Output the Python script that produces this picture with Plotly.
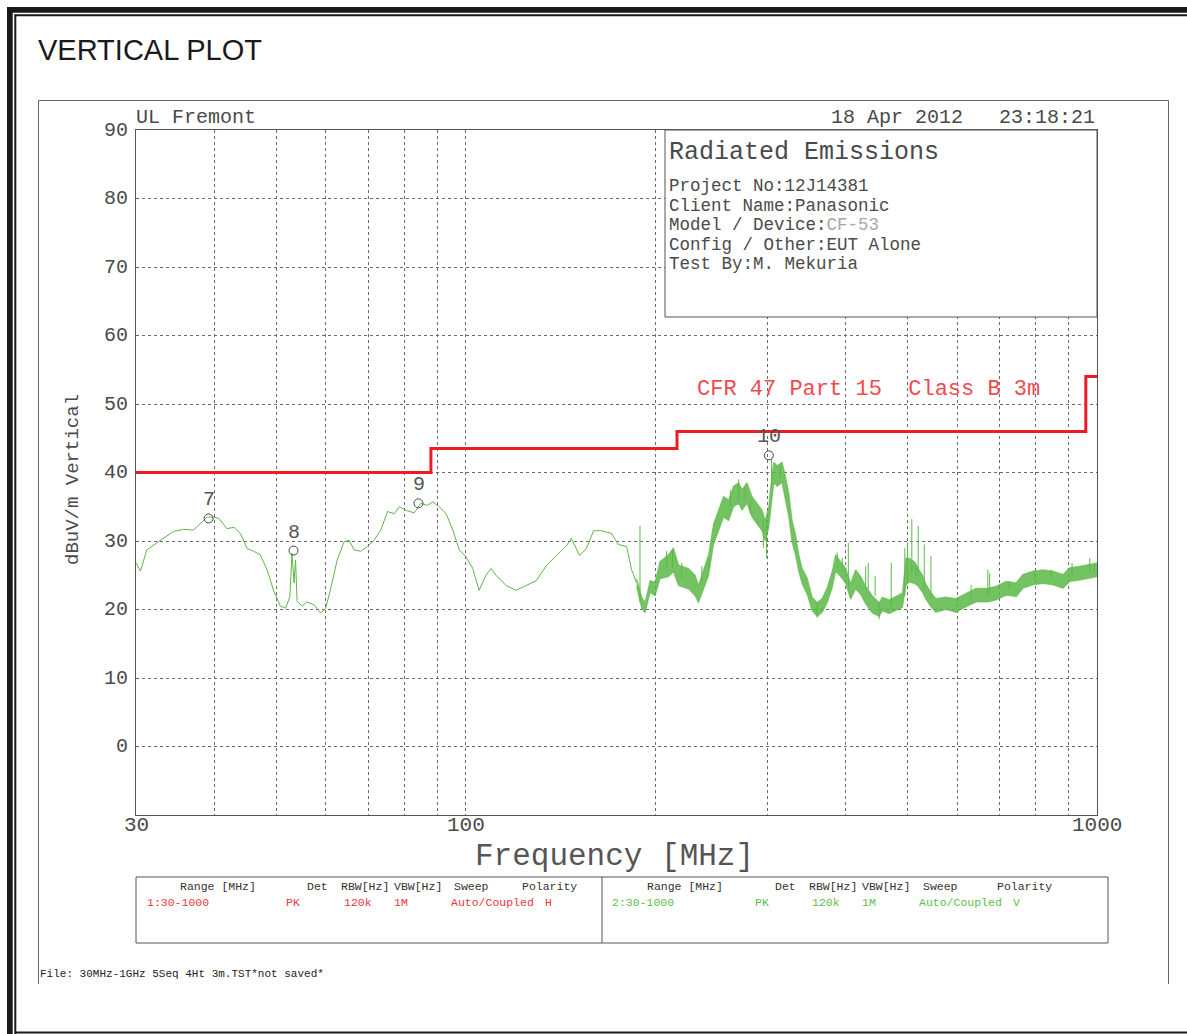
import numpy as np
import plotly.graph_objects as go

# ---------------- data ----------------
# low-frequency part of the vertical trace (MHz, dBuV/m)
freq_lo = [30.0, 30.5, 31.2, 32.0, 33.2, 34.4, 35.7, 37.0, 38.2, 38.9, 39.8, 40.6, 41.8, 42.9,
           43.9, 45.0, 46.1, 47.2, 48.4, 49.6, 50.8, 51.8, 52.6, 53.0, 53.4, 53.7, 54.0, 55.0,
           56.0, 57.4, 58.8, 59.9, 61.0, 62.5, 64.1, 65.3, 66.5, 68.1, 69.8, 71.5, 73.3, 75.1,
           77.0, 78.4, 80.8, 82.8, 84.8, 86.9, 88.6, 90.7, 93.0, 95.3, 97.6, 100.0, 102.5,
           104.9, 107.6, 109.6, 111.6, 115.8, 120.1, 124.6, 129.2, 134.1, 139.1, 144.3, 146.9,
           151.3, 155.2, 159.3, 164.0, 170.1, 174.3, 179.7, 183.0, 186.4]
level_lo = [26.8, 25.6, 28.7, 29.4, 30.5, 31.4, 31.7, 31.6, 32.8, 33.5, 33.5, 33.3, 31.8, 32.0,
            31.1, 28.9, 28.5, 28.0, 25.8, 22.7, 20.5, 20.2, 21.9, 28.2, 23.9, 27.2, 21.2, 20.5,
            21.1, 20.7, 19.5, 20.1, 22.9, 27.2, 29.9, 30.1, 28.7, 28.5, 29.2, 30.1, 31.6, 34.3,
            34.0, 35.0, 34.4, 34.1, 35.5, 35.2, 35.7, 35.0, 34.0, 31.6, 28.7, 27.7, 26.0,
            22.8, 25.0, 26.0, 25.0, 23.5, 22.8, 23.5, 24.2, 26.4, 27.9, 29.3, 30.4,
            27.9, 28.9, 31.5, 31.5, 31.1, 29.5, 29.2, 25.8, 23.9]

# noisy part of the trace: lower / upper edge of the band
band_freq = [186.4, 189.9, 192.2, 195.8, 199.4, 203.0, 209.4,
             213.2, 217.2, 225.3, 230.8, 233.6, 238.0, 242.4, 246.8, 251.4, 256.0, 260.8, 265.5,
             270.5, 273.8, 278.8, 284.0, 289.2, 294.6, 298.1, 301.9, 303.7, 307.4, 311.2, 316.9,
             320.8, 324.8, 328.7, 332.8, 336.9, 340.9, 347.3, 353.7, 360.3, 366.9, 373.7, 380.6,
             385.3, 392.4, 399.7, 406.9, 414.5, 422.2, 430.0, 440.6, 451.6, 456.9, 468.3, 479.8,
             491.8, 497.8, 504.0, 513.2, 519.5, 529.1, 535.6, 545.5, 555.5, 576.3, 597.8, 620.2,
             643.3, 671.4, 692.2, 718.0, 744.7, 763.1, 791.6, 821.2, 851.7, 883.3, 905.3, 939.0,
             973.9, 1000.0]
band_low = [23.3, 20.2, 19.5, 22.5, 22.0, 24.5, 24.8,
            25.5, 23.5, 23.0, 22.0, 21.0, 23.0, 25.0, 29.5, 31.5, 33.5, 33.0, 35.0,
            35.5, 34.5, 35.5, 33.5, 32.5, 31.5, 30.0, 32.0, 34.0, 38.5, 38.0, 38.5,
            36.0, 33.5, 29.8, 28.0, 25.5, 23.8, 22.2, 19.8, 19.0, 19.6, 21.0, 23.2,
            25.6, 24.8, 23.8, 21.5, 23.0, 22.2, 20.8, 19.5, 19.0, 19.8, 19.4, 19.9,
            20.3, 23.5, 24.0, 23.8, 23.5, 22.5, 21.5, 20.4, 19.6, 20.0, 19.6, 20.4,
            21.1, 21.1, 21.4, 22.1, 21.9, 23.1, 23.6, 23.8, 23.6, 23.1, 24.1, 24.3,
            24.6, 24.8]
band_high = [24.5, 21.8, 21.0, 24.2, 24.0, 27.0, 28.0,
             29.0, 26.5, 26.0, 25.0, 23.5, 25.8, 28.0, 32.5, 34.5, 36.5, 36.0, 38.0,
             38.5, 37.5, 38.5, 36.5, 35.5, 34.5, 33.0, 35.0, 37.5, 41.5, 41.0, 41.5,
             39.5, 37.0, 33.0, 31.0, 28.0, 26.0, 24.6, 21.8, 21.0, 21.6, 23.2, 25.6,
             28.0, 27.0, 26.0, 23.8, 25.8, 24.8, 23.4, 22.0, 21.0, 21.8, 21.4, 21.9,
             22.4, 27.5, 27.5, 27.0, 26.2, 25.0, 23.7, 22.5, 21.6, 21.8, 21.6, 22.4,
             23.1, 23.1, 23.4, 24.1, 23.9, 25.1, 25.6, 25.8, 25.6, 25.1, 26.1, 26.3,
             26.6, 26.8]

# isolated spikes (MHz, bottom, top)
spike_freq = [188.7, 208.0, 212.5, 219.8, 236.5, 242.4, 262.4, 270.5, 277.0, 282.0, 296.0,
              299.5, 305.0, 315.0, 360.3, 387.7, 394.8, 403.6, 430.0, 434.0, 445.0, 451.6,
              472.0, 496.0, 500.9, 508.8, 516.3, 520.8, 532.4, 545.5, 631.6, 671.4, 676.0,
              726.0, 796.0, 846.0, 913.0, 973.9, 990.0]
spike_base = [21.0, 26.0, 26.0, 24.5, 24.0, 26.0, 35.0, 36.0, 36.0, 34.0, 29.0,
              27.5, 38.0, 39.0, 18.8, 26.0, 25.5, 23.0, 23.0, 23.0, 22.0, 18.6,
              20.5, 22.0, 24.0, 25.5, 25.0, 25.0, 23.0, 21.5, 21.5, 22.0, 22.5,
              23.0, 24.5, 24.5, 25.0, 25.5, 25.5]
spike_top = [32.2, 28.5, 28.7, 26.8, 26.3, 27.5, 37.4, 39.0, 37.9, 35.7, 33.0,
             33.5, 42.0, 41.0, 21.0, 28.3, 27.5, 29.7, 26.3, 26.8, 24.9, 21.0,
             26.8, 29.0, 29.8, 33.2, 26.8, 32.2, 29.5, 27.8, 23.6, 25.8, 25.3,
             24.1, 25.6, 25.8, 26.8, 27.5, 26.6]

# FCC limit line
limit_freq = [30, 88, 216, 960, 1000]
limit_level = [40, 43.5, 46, 54, 54]

# markers
marker_ids = ["7", "8", "9", "10"]
marker_freq = [39.1, 53.3, 84.1, 302.0]
marker_level = [33.3, 28.6, 35.5, 42.5]

# axes
y_ticks = [0, 10, 20, 30, 40, 50, 60, 70, 80, 90]
x_ticks = [30, 100, 1000]
x_tick_text = ["30", "100", "1000"]
x_grid = [40, 50, 60, 70, 80, 90, 100, 200, 300, 400, 500, 600, 700, 800, 900]

# table rows
table_head = ["Range [MHz]", "Det", "RBW[Hz]", "VBW[Hz]", "Sweep", "Polarity"]
row_h = ["1:30-1000", "PK", "120k", "1M", "Auto/Coupled", "H"]
row_v = ["2:30-1000", "PK", "120k", "1M", "Auto/Coupled", "V"]

# ---------------- style ----------------
W, H = 1187, 1034
L, R, T, B = 136, 1097, 130, 815
GREEN = "#5cb848"
RED = "#ec1c24"
TXT = "#4a4a4a"
GRID = "#6a6a6a"
MONO = "Liberation Mono, DejaVu Sans Mono, monospace"


def px(x):
    return (x - L) / (R - L)


def py(y):
    return (B - y) / (B - T)


fig = go.Figure()

fig.add_trace(go.Scatter(x=freq_lo, y=level_lo, mode="lines",
                         line=dict(color=GREEN, width=1), hoverinfo="skip"))
fig.add_trace(go.Scatter(x=band_freq, y=band_low, mode="lines",
                         line=dict(color="rgba(92,184,72,0.65)", width=1.2), hoverinfo="skip"))
fig.add_trace(go.Scatter(x=band_freq, y=band_high, mode="lines", fill="tonexty",
                         fillcolor="rgba(92,184,72,0.85)",
                         line=dict(color="rgba(92,184,72,0.65)", width=1.2), hoverinfo="skip"))

sx, sy = [], []
for f, b, t in zip(spike_freq, spike_base, spike_top):
    sx += [f, f, None]
    sy += [b, t, None]
fig.add_trace(go.Scatter(x=sx, y=sy, mode="lines", line=dict(color=GREEN, width=1),
                         hoverinfo="skip"))

fig.add_trace(go.Scatter(x=limit_freq, y=limit_level, mode="lines", line_shape="hv",
                         line=dict(color=RED, width=3), hoverinfo="skip"))

fig.add_trace(go.Scatter(x=marker_freq, y=marker_level, mode="markers",
                         marker=dict(symbol="circle-open", size=9, color="#444",
                                     line=dict(width=1, color="#444")),
                         hoverinfo="skip"))

ann = []
for mid, f, lv in zip(marker_ids, marker_freq, marker_level):
    ann.append(dict(x=np.log10(f), y=lv + 2.7, xref="x", yref="y", text=mid,
                    showarrow=False, font=dict(family=MONO, size=20, color="#555"),
                    xanchor="center", yanchor="middle"))

ann.append(dict(x=np.log10(230.5), y=52.1, xref="x", yref="y",
                text="CFR 47 Part 15  Class B 3m", showarrow=False,
                font=dict(family=MONO, size=22, color="#f04a50"),
                xanchor="left", yanchor="middle"))


def text(x, y, s, size, color=TXT, anchor="left", family=MONO, angle=0):
    ann.append(dict(x=px(x), y=py(y), xref="paper", yref="paper", text=s,
                    showarrow=False, font=dict(family=family, size=size, color=color),
                    xanchor=anchor, yanchor="middle", textangle=angle))


# tick labels
for v in y_ticks:
    ann.append(dict(x=px(130), y=(v + 10) / 100, xref="paper", yref="paper", text=str(v),
                    showarrow=False, font=dict(family=MONO, size=20, color=TXT),
                    xanchor="right", yanchor="middle"))
for v, s in zip(x_ticks, x_tick_text):
    ann.append(dict(x=np.log10(v), y=py(826), xref="x", yref="paper", text=s,
                    showarrow=False, font=dict(family=MONO, size=21, color=TXT),
                    xanchor="center", yanchor="middle"))

text(36, 50, "VERTICAL PLOT", 29, "#1a1a1a", family="Liberation Sans, Arial, sans-serif")
text(134, 117, "UL Fremont", 20)
text(1097, 117, "18 Apr 2012   23:18:21", 20, anchor="right")
text(667, 152, "Radiated Emissions", 25)
info = ["Project No:12J14381", "Client Name:Panasonic",
        "Model / Device:<span style='color:#a8a8a8'>CF-53</span>",
        "Config / Other:EUT Alone", "Test By:M. Mekuria"]
for i, s in enumerate(info):
    text(667, 186 + i * 19.5, s, 17.5)

text(614, 856, "Frequency [MHz]", 31, "#555", anchor="center")
text(73, 480, "dBuV/m Vertical", 19, angle=-90, anchor="center")

head_x_l = [178, 305, 339, 392, 452, 520]
row_x_l = [145, 284, 342, 392, 449, 543]
head_x_r = [645, 773, 807, 860, 921, 995]
row_x_r = [610, 753, 810, 860, 917, 1011]
for s, x in zip(table_head, head_x_l):
    text(x, 886, s, 11.5, "#333")
for s, x in zip(row_h, row_x_l):
    text(x, 902, s, 11.5, "#f0353a")
for s, x in zip(table_head, head_x_r):
    text(x, 886, s, 11.5, "#333")
for s, x in zip(row_v, row_x_r):
    text(x, 902, s, 11.5, "#5cbf4a")
text(38, 974, "File: 30MHz-1GHz 5Seq 4Ht 3m.TST*not saved*", 11, "#222")

shapes = []


def rect(x0, y0, x1, y1, line="#555", fill=None, width=1, layer="above"):
    shapes.append(dict(type="rect", xref="paper", yref="paper",
                       x0=px(x0), x1=px(x1), y0=py(y0), y1=py(y1),
                       line=dict(color=line, width=width) if line else dict(width=0),
                       fillcolor=fill if fill else "rgba(0,0,0,0)", layer=layer))


def hline(x0, x1, y, color="#555", width=1):
    shapes.append(dict(type="line", xref="paper", yref="paper", x0=px(x0), x1=px(x1),
                       y0=py(y), y1=py(y), line=dict(color=color, width=width)))


def vline(x, y0, y1, color="#555", width=1):
    shapes.append(dict(type="line", xref="paper", yref="paper", x0=px(x), x1=px(x),
                       y0=py(y0), y1=py(y1), line=dict(color=color, width=width)))


# page frame
rect(7, 7, 1190, 12.7, line=None, fill="#1a1a1a")
rect(7, 7, 12.7, 1040, line=None, fill="#1a1a1a")
hline(14.5, 1190, 15.3, "#1a1a1a", 2)
vline(15.3, 14.5, 1040, "#1a1a1a", 2)
hline(15, 1190, 1032.5, "#1a1a1a", 2)
# outer gray box
hline(38.5, 1168.5, 100.5, "#666", 1)
vline(38.5, 100.5, 984, "#666", 1)
vline(1168.5, 100.5, 984, "#666", 1)
# info box
rect(665, 130, 1097, 317, line="#555", fill="white")
# settings table
rect(136, 877, 1108, 943, line="#555", fill="white")
vline(602, 877, 943, "#555", 1)

fig.update_layout(
    width=W, height=H,
    margin=dict(l=L, r=W - R, t=T, b=H - B),
    paper_bgcolor="white", plot_bgcolor="white",
    showlegend=False,
    annotations=ann, shapes=shapes,
    xaxis=dict(type="log", range=[np.log10(30), 3], showticklabels=False,
               showgrid=False, showline=True, mirror=True, linecolor="#555",
               linewidth=1, ticks="", zeroline=False,
               minor=dict(tickmode="array", tickvals=x_grid, showgrid=True,
                          gridcolor=GRID, griddash="3px,3px", gridwidth=1, ticks="")),
    yaxis=dict(range=[-10, 90], tickmode="array", tickvals=y_ticks, showticklabels=False,
               showgrid=True, gridcolor=GRID, griddash="3px,3px", gridwidth=1,
               showline=True, mirror=True, linecolor="#555", linewidth=1,
               ticks="", zeroline=False),
)

fig.write_html("out.html", config={"displayModeBar": False},
               post_script="document.body.style.margin='0';"
                           "document.body.style.overflow='hidden';")
